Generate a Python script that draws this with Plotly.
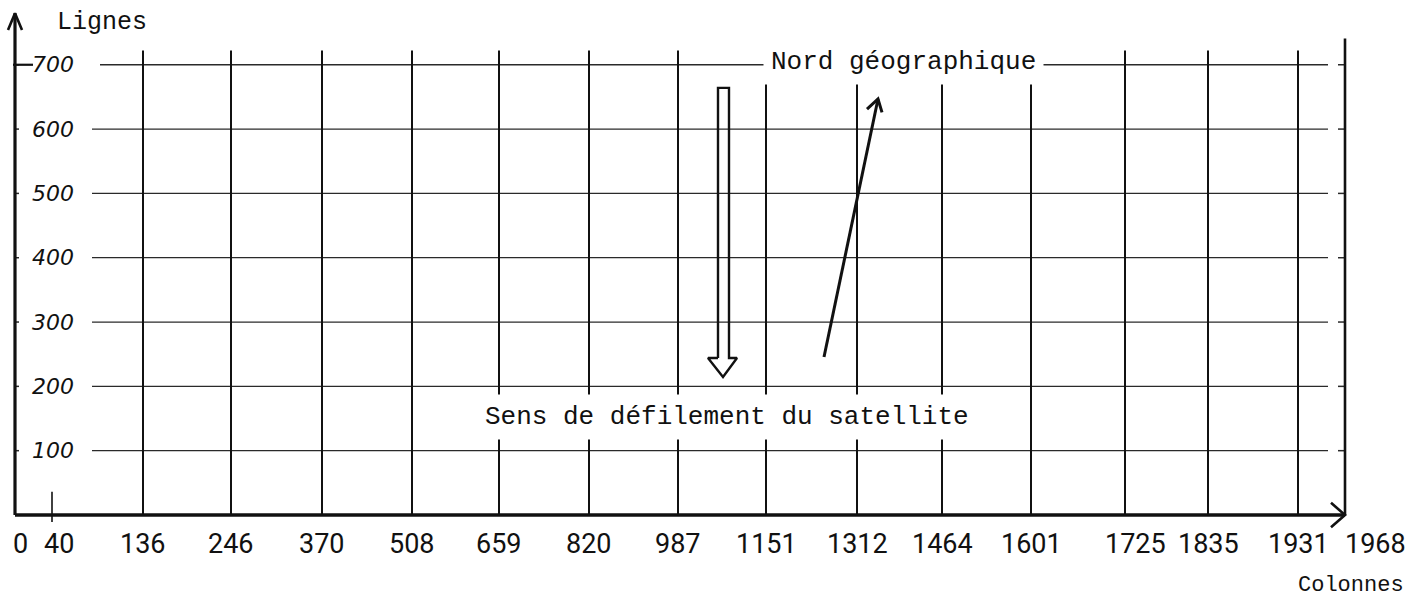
import plotly.graph_objects as go

# ---------------- data ----------------
col_labels = [0, 40, 136, 246, 370, 508, 659, 820, 987, 1151, 1312, 1464, 1601, 1725, 1835, 1931, 1968]
# where each column sits along the (schematic, non-linear) drawn axis
col_axis_pos = [0, 37, 128, 216, 307, 397, 484, 574, 663, 751, 842, 927, 1016, 1110, 1193, 1283, 1330]
row_labels = [100, 200, 300, 400, 500, 600, 700]

x_title = "Colonnes"
y_title = "Lignes"
north_text = "Nord géographique"
scan_text = "Sens de défilement du satellite"

# ---------------- geometry helpers ----------------
PX_Y = 0.6432          # pixels per "ligne" unit
X_RANGE = [-15, 1407]
Y_RANGE = [-82 / PX_Y, 515 / PX_Y]

INK = "#111111"
GRID = "#2a2a2a"

fig = go.Figure()


def seg(x0, y0, x1, y1, w, color=INK):
    fig.add_shape(type="line", xref="x", yref="y", x0=x0, y0=y0, x1=x1, y1=y1,
                  line=dict(color=color, width=w), layer="below")


def poly(xs, ys, w, color=INK):
    fig.add_trace(go.Scatter(x=xs, y=ys, mode="lines", line=dict(color=color, width=w),
                             hoverinfo="skip", showlegend=False, cliponaxis=False))


grid_left = 77
grid_right = 1313
x_end = col_axis_pos[-1]
y_top_axis = 780

# horizontal grid lines (lignes)
for r in row_labels:
    seg(grid_left if r != 700 else 85, r, grid_right, r, 1.3, GRID)
    seg(-1, r, 4, r, 1.5, GRID)                 # small tick on the left axis
    seg(x_end - 7, r, x_end, r, 1.5, GRID)      # small tick on the right border
seg(-2, 700, 18, 700, 2.2, INK)

# vertical grid lines (colonnes)
for p in col_axis_pos[2:-1]:
    seg(p, 0, p, 722, 2.0, INK)
seg(col_axis_pos[1], -11, col_axis_pos[1], 36, 1.6, INK)   # short tick at 40
seg(x_end, 0, x_end, 741, 2.6, INK)                        # right border (1968)

# axes
seg(0, 0, 0, y_top_axis, 3.2, INK)
seg(0, 0, x_end, 0, 3.6, INK)
poly([-7, 0, 7], [y_top_axis - 26, y_top_axis, y_top_axis - 26], 2.6)
poly([x_end - 14, x_end, x_end - 14], [19, 0, -19], 2.6)

# hollow arrow: direction of satellite travel
ha_x = [703, 703, 714, 714, 722, 708, 693, 703]
ha_y = [244, 664, 664, 244, 244, 214.6, 244, 244]
poly(ha_x, ha_y, 2.4)

# solid arrow: geographic north
na_x0, na_y0 = 809, 245.6
na_x1, na_y1 = 863, 646.8
poly([na_x0, na_x1], [na_y0, na_y1], 3.0)
poly([852, na_x1, 867], [631, na_y1, 626], 3.0)

# ---------------- texts ----------------
ann = []
mono = dict(family="Liberation Mono, Courier New, monospace", size=26, color=INK)

ann.append(dict(x=40, y=766, text=y_title, xanchor="left", yanchor="middle",
                showarrow=False, font=dict(family=mono["family"], size=25, color=INK)))
ann.append(dict(x=748, y=704, text=north_text, xanchor="left", yanchor="middle",
                showarrow=False, font=mono, bgcolor="white", borderpad=7))
ann.append(dict(x=462, y=152, text=scan_text, xanchor="left", yanchor="middle",
                showarrow=False, font=mono, bgcolor="white", borderpad=7))
ann.append(dict(x=1391, y=-109, text=x_title, xanchor="right", yanchor="middle",
                showarrow=False, font=dict(family=mono["family"], size=22, color=INK)))

label_nudge = {0: 5, 40: 7, 1725: 10, 1968: 30}
for lab, pos in zip(col_labels, col_axis_pos):
    ann.append(dict(x=pos, y=-45, text=str(lab), xanchor="center", yanchor="middle",
                    xshift=label_nudge.get(lab, 0), showarrow=False,
                    font=dict(family="Roboto, sans-serif", size=27, color=INK)))

for r in row_labels:
    ann.append(dict(x=38, y=r, text=str(r), xanchor="center", yanchor="middle",
                    showarrow=False,
                    font=dict(family="DejaVu Sans, sans-serif", size=22, color=INK,
                              style="italic")))

fig.update_layout(
    width=1422, height=597,
    margin=dict(l=0, r=0, t=0, b=0),
    paper_bgcolor="white", plot_bgcolor="white",
    xaxis=dict(range=X_RANGE, visible=False, fixedrange=True),
    yaxis=dict(range=Y_RANGE, visible=False, fixedrange=True),
    annotations=ann,
    showlegend=False,
)

fig.write_html("out.html", config={"displayModeBar": False},
               post_script="document.body.style.margin='0';")
